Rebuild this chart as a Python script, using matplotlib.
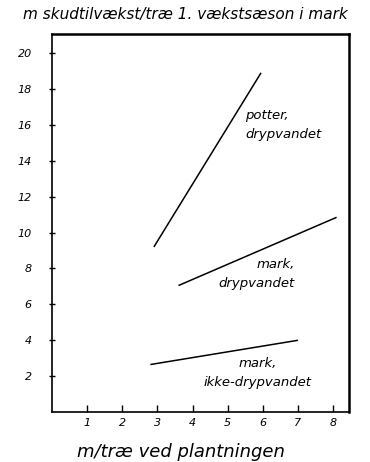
import matplotlib
matplotlib.use("Agg")
import matplotlib.pyplot as plt

# skudtilvaekst per traeets stoerrelse ved plantning
potter_x = [2.9, 5.95]
potter_y = [9.2, 18.9]
mark_dryp_x = [3.6, 8.1]
mark_dryp_y = [7.05, 10.85]
mark_ikke_x = [2.8, 7.0]
mark_ikke_y = [2.65, 4.0]

xticks = [1, 2, 3, 4, 5, 6, 7, 8]
yticks = [2, 4, 6, 8, 10, 12, 14, 16, 18, 20]

labels = ["potter,\ndrypvandet", "mark,\ndrypvandet", "mark,\nikke-drypvandet"]
label_pos = [(5.5, 16.0), (6.9, 7.7), (5.85, 2.2)]
label_ha = ["left", "right", "center"]

fig = plt.figure(figsize=(3.7, 4.62), dpi=100)
ax = fig.add_axes([0.1405, 0.108, 0.8025, 0.818])

for xs, ys in [(potter_x, potter_y), (mark_dryp_x, mark_dryp_y), (mark_ikke_x, mark_ikke_y)]:
	ax.plot(xs, ys, color="black", lw=1.1, solid_capstyle="butt")

for txt, (tx, ty), ha in zip(labels, label_pos, label_ha):
	ax.text(tx, ty, txt, ha=ha, va="center", fontsize=9.5, style="italic",
		linespacing=1.6)

ax.set_xlim(0, 8.45)
ax.set_ylim(0, 21.05)
ax.set_xticks(xticks)
ax.set_yticks(yticks)
ax.tick_params(axis="x", direction="in", length=5, width=1, pad=4, labelsize=8)
ax.tick_params(axis="y", direction="inout", length=5, width=1, pad=12, labelsize=8)
for lab in ax.get_xticklabels() + ax.get_yticklabels():
	lab.set_style("italic")

for side in ["left", "bottom"]:
	ax.spines[side].set_linewidth(1.2)
for side in ["top", "right"]:
	ax.spines[side].set_linewidth(1.8)

fig.text(0.5, 0.968, "m skudtilvækst/træ 1. vækstsæson i mark", ha="center", va="center",
	fontsize=11, style="italic")
fig.text(0.49, 0.022, "m/træ ved plantningen", ha="center", va="center",
	fontsize=13, style="italic")

fig.savefig("out.png", dpi=100)
